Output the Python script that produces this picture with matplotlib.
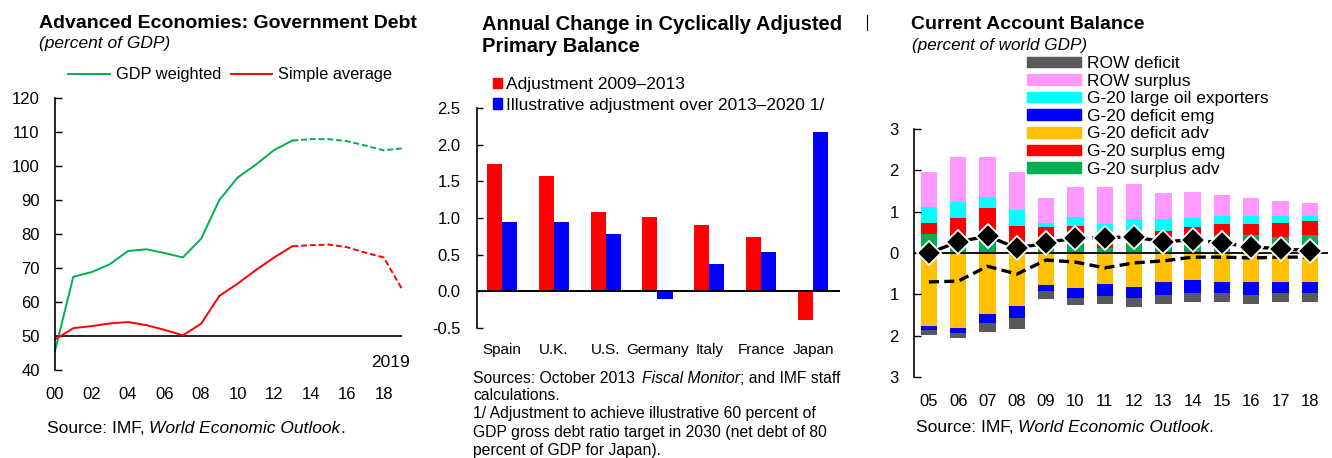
import matplotlib
matplotlib.use('Agg')
import matplotlib.pyplot as plt
from matplotlib.patches import Patch
from matplotlib.lines import Line2D
import numpy as np

plt.rcParams['font.family'] = ['Liberation Sans', 'DejaVu Sans']
plt.rcParams['font.size'] = 11
plt.rcParams['axes.unicode_minus'] = False

W, H = 1332, 458

# --- data: government debt (percent of GDP)
debt_years = list(range(2000, 2020))
gdp_weighted = [45.6, 67.4, 68.8, 71.1, 75.0, 75.5, 74.4, 73.1, 78.6, 90.0,
                96.6, 100.4, 104.7, 107.5, 107.9, 107.9, 107.3, 106.0, 104.6, 105.2]
simple_average = [49.0, 52.3, 52.9, 53.7, 54.1, 53.2, 51.8, 50.2, 53.6, 61.8,
                  65.4, 69.4, 73.1, 76.4, 76.7, 76.9, 76.1, 74.5, 73.1, 63.8]
debt_last_actual = 2013

# --- data: cyclically adjusted primary balance
countries = ['Spain', 'U.K.', 'U.S.', 'Germany', 'Italy', 'France', 'Japan']
adj_2009_2013 = [1.74, 1.57, 1.08, 1.01, 0.90, 0.74, -0.39]
adj_2013_2020 = [0.94, 0.94, 0.78, -0.11, 0.37, 0.54, 2.17]

# --- data: current account balance (percent of world GDP)
ca_years = list(range(2005, 2019))
g20_surplus_adv = [0.46, 0.35, 0.35, 0.22, 0.30, 0.42, 0.13, 0.46, 0.35, 0.40, 0.44, 0.44, 0.39, 0.44]
g20_surplus_emg = [0.26, 0.50, 0.74, 0.44, 0.33, 0.24, 0.35, 0.05, 0.18, 0.23, 0.26, 0.26, 0.34, 0.34]
g20_oil = [0.39, 0.39, 0.26, 0.39, 0.10, 0.20, 0.23, 0.32, 0.30, 0.22, 0.20, 0.20, 0.17, 0.12]
row_surplus = [0.86, 1.09, 0.98, 0.92, 0.61, 0.74, 0.89, 0.85, 0.63, 0.63, 0.51, 0.44, 0.36, 0.31]
g20_deficit_adv = [-1.77, -1.82, -1.48, -1.29, -0.78, -0.85, -0.75, -0.83, -0.70, -0.66, -0.70, -0.70, -0.70, -0.70]
g20_deficit_emg = [-0.10, -0.12, -0.21, -0.29, -0.14, -0.24, -0.29, -0.26, -0.32, -0.31, -0.27, -0.32, -0.27, -0.27]
row_deficit = [-0.11, -0.12, -0.22, -0.27, -0.20, -0.17, -0.20, -0.22, -0.22, -0.22, -0.22, -0.22, -0.22, -0.22]
diamond_series = [0.00, 0.27, 0.41, 0.12, 0.24, 0.37, 0.37, 0.39, 0.27, 0.32, 0.24, 0.15, 0.10, 0.06]
dashed_series = [-0.70, -0.68, -0.32, -0.51, -0.17, -0.22, -0.36, -0.24, -0.19, -0.10, -0.10, -0.12, -0.10, -0.10]

fig = plt.figure(figsize=(W / 100, H / 100), dpi=100)


def axes_px(left, top, right, bottom):
    return fig.add_axes([left / W, 1 - bottom / H, (right - left) / W, (bottom - top) / H])


def fig_text(x, y, s, **kw):
    return fig.text(x / W, 1 - y / H, s, va='baseline', **kw)


def rich_text(x, y, parts, size=12.5):
    r = fig.canvas.get_renderer()
    cx = x
    for s, style, gap in parts:
        t = fig_text(cx, y, s, style=style, fontsize=size)
        cx += t.get_window_extent(r).width + gap


def style_axis(ax):
    for side in ['top', 'right', 'bottom']:
        ax.spines[side].set_visible(False)
    ax.spines['left'].set_linewidth(1.2)
    ax.tick_params(axis='y', direction='in', length=5, width=1, labelsize=12, pad=11)
    ax.tick_params(axis='x', length=0, labelsize=12)
    ax.patch.set_alpha(0)


# ---------------- left panel
ax1 = axes_px(55, 98, 402, 370)
style_axis(ax1)
ax1.set_xlim(2000, 2019)
ax1.set_ylim(40, 120)
ax1.set_yticks(range(40, 121, 10))
ax1.set_xticks(range(2000, 2019, 2))
ax1.set_xticklabels([f'{y % 100:02d}' for y in range(2000, 2019, 2)])
ax1.tick_params(axis='x', pad=12)
ax1.axhline(50, color='black', lw=1.2)
k = debt_years.index(debt_last_actual) + 1
green, red = '#00B050', '#FF0000'
ax1.plot(debt_years[:k], gdp_weighted[:k], color=green, lw=1.4, clip_on=False)
ax1.plot(debt_years[k - 1:], gdp_weighted[k - 1:], color=green, lw=1.4, ls=(0, (3, 1.5)), clip_on=False)
ax1.plot(debt_years[:k], simple_average[:k], color=red, lw=1.4, clip_on=False)
ax1.plot(debt_years[k - 1:], simple_average[k - 1:], color=red, lw=1.4, ls=(0, (3, 1.5)), clip_on=False)
ax1.legend([Line2D([], [], color=green, lw=1.4), Line2D([], [], color=red, lw=1.4)],
           ['GDP weighted', 'Simple average'], ncol=2, frameon=False, fontsize=11.8,
           loc='center left', bbox_to_anchor=(68 / W, 1 - 75 / H), bbox_transform=fig.transFigure,
           borderpad=0, borderaxespad=0, handlelength=2.55, handletextpad=0.35, columnspacing=0.6)
fig_text(390, 367, '2019', ha='center', fontsize=12.5)

fig_text(39, 28, 'Advanced Economies: Government Debt', fontsize=14, weight='bold')
fig_text(39, 48, '(percent of GDP)', fontsize=12.5, style='italic')
rich_text(47, 433, [('Source: IMF,', 'normal', 4), ('World Economic Outlook', 'italic', 0), ('.', 'normal', 0)])

# ---------------- middle panel
ax2 = axes_px(477, 108, 840, 328)
style_axis(ax2)
ax2.tick_params(axis='y', length=4, pad=12)
ax2.set_xlim(-0.48, 6.52)
ax2.set_ylim(-0.5, 2.5)
ax2.set_yticks(np.arange(-0.5, 2.51, 0.5))
ax2.yaxis.set_major_formatter(matplotlib.ticker.FormatStrFormatter('%.1f'))
x = np.arange(len(countries))
bw = 0.29
ax2.bar(x - bw / 2, adj_2009_2013, bw, color='#FF0000')
ax2.bar(x + bw / 2, adj_2013_2020, bw, color='#0000FF')
ax2.axhline(0, color='black', lw=1.4)
ax2.set_xticks(x)
ax2.set_xticklabels(countries, fontsize=11)
ax2.tick_params(axis='x', pad=11)
ax2.legend([Patch(color='#FF0000'), Patch(color='#0000FF')],
           ['Adjustment 2009\u20132013', 'Illustrative adjustment over 2013\u20132020 1/'],
           frameon=False, fontsize=12.5, loc='upper left',
           bbox_to_anchor=(493 / W, 1 - 77 / H), bbox_transform=fig.transFigure,
           borderpad=0, borderaxespad=0, handlelength=0.52, handleheight=0.55,
           handletextpad=0.22, labelspacing=0.32)

fig_text(482, 30, 'Annual Change in Cyclically Adjusted', fontsize=14.5, weight='bold')
fig_text(482, 52, 'Primary Balance', fontsize=14.5, weight='bold')
fig.add_artist(Line2D([867 / W, 867 / W], [1 - 15 / H, 1 - 30 / H], color='black', lw=0.8))
rich_text(473, 383, [('Sources: October 2013', 'normal', 7), ('Fiscal Monitor', 'italic', 0),
                     ('; and IMF staff', 'normal', 0)], size=11.3)
notes = ['calculations.',
         '1/ Adjustment to achieve illustrative 60 percent of',
         'GDP gross debt ratio target in 2030 (net debt of 80',
         'percent of GDP for Japan).']
for i, line in enumerate(notes):
    fig_text(473, 400 + 18.3 * i, line, fontsize=11.3)

# ---------------- right panel
ax3 = axes_px(914, 129, 1328, 377)
style_axis(ax3)
ax3.set_ylim(-3, 3)
ax3.set_xlim(2004.49, 2018.62)
ax3.set_yticks(range(-3, 4))
ax3.yaxis.set_major_formatter(matplotlib.ticker.FuncFormatter(lambda v, p: f'{abs(v):.0f}'))
ax3.set_xticks(ca_years)
ax3.set_xticklabels([f'{y % 100:02d}' for y in ca_years])
ax3.tick_params(axis='x', pad=12)

pos_series = [(g20_surplus_adv, '#00B050'), (g20_surplus_emg, '#FF0000'),
              (g20_oil, '#00FFFF'), (row_surplus, '#FF99FF')]
neg_series = [(g20_deficit_adv, '#FFC000'), (g20_deficit_emg, '#0000FF'), (row_deficit, '#595959')]
cbw = 0.56
base = np.zeros(len(ca_years))
for vals, col in pos_series:
    ax3.bar(ca_years, vals, cbw, bottom=base, color=col)
    base = base + np.array(vals)
base = np.zeros(len(ca_years))
for vals, col in neg_series:
    ax3.bar(ca_years, vals, cbw, bottom=base, color=col)
    base = base + np.array(vals)
ax3.axhline(0, color='black', lw=1.3)
ax3.plot(ca_years, dashed_series, color='black', lw=2.4, ls=(0, (3, 1.6)))
ax3.plot(ca_years[:6], diamond_series[:6], color='black', lw=2.4)
ax3.plot(ca_years[5:], diamond_series[5:], color='black', lw=2.4, ls=(0, (3.5, 1.5)))
ax3.plot(ca_years, diamond_series, ls='none', marker='D', ms=12.5, color='black',
         markeredgecolor='white', markeredgewidth=1.3)

leg_labels = ['ROW deficit', 'ROW surplus', 'G-20 large oil exporters', 'G-20 deficit emg',
              'G-20 deficit adv', 'G-20 surplus emg', 'G-20 surplus adv']
leg_colors = ['#595959', '#FF99FF', '#00FFFF', '#0000FF', '#FFC000', '#FF0000', '#00B050']
ax3.legend([Patch(color=c) for c in leg_colors], leg_labels, frameon=False, fontsize=12.5,
           loc='upper left', bbox_to_anchor=(1027 / W, 1 - 56 / H), bbox_transform=fig.transFigure,
           borderpad=0, borderaxespad=0, handlelength=3.1, handleheight=0.57,
           handletextpad=0.35, labelspacing=0.15)

fig_text(911, 29, 'Current Account Balance', fontsize=14, weight='bold')
fig_text(912, 50, '(percent of world GDP)', fontsize=12.3, style='italic')
rich_text(916, 432, [('Source: IMF,', 'normal', 4), ('World Economic Outlook', 'italic', 0), ('.', 'normal', 0)])

fig.savefig('out.png', dpi=100)
